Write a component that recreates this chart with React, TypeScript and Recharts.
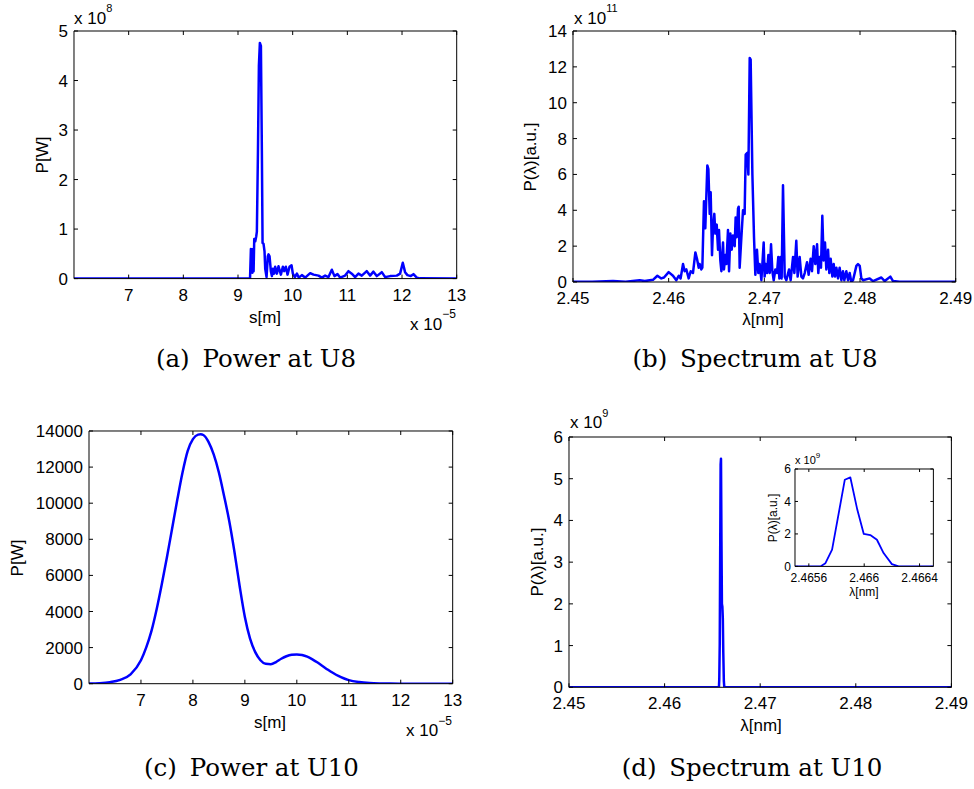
import React from 'react';
import { LineChart, Line, XAxis, YAxis } from 'recharts';

// ---------- data ----------
// (a) power at U8: s [x 1e-5 m], P [x 1e8 W]
const powerU8: [number, number][] = [
  [6.0, 0], [9.22, 0], [9.236, 0.6], [9.254, 0.55], [9.263, 0.12], [9.272, 0.6], [9.285, 0.15],
  [9.297, 0.8], [9.315, 0.75], [9.333, 0.85], [9.345, 0.95], [9.364, 2.5], [9.382, 4.3], [9.4, 4.76],
  [9.419, 4.7], [9.437, 2.5], [9.449, 0.72], [9.467, 0.7], [9.485, 0.55], [9.498, 0.2], [9.522, 0.03],
  [9.545, 0.45], [9.558, 0.49], [9.577, 0.45], [9.601, 0.15], [9.62, 0.05], [9.638, 0.2], [9.66, 0.1],
  [9.68, 0.24], [9.711, 0.1], [9.741, 0.25], [9.784, 0.08], [9.82, 0.24], [9.845, 0.15], [9.875, 0.24],
  [9.906, 0.08], [9.942, 0.24], [9.979, 0.27], [10.003, 0.1], [10.04, 0.03], [10.077, 0.1], [10.113, 0.02],
  [10.168, 0.07], [10.229, 0.02], [10.32, 0.11], [10.381, 0.08], [10.473, 0.06], [10.533, 0.02],
  [10.594, 0.06], [10.655, 0.03], [10.716, 0.18], [10.764, 0.05], [10.819, 0.09], [10.868, 0.02],
  [10.959, 0.06], [11.02, 0.15], [11.081, 0.1], [11.142, 0.03], [11.203, 0.1], [11.264, 0.06],
  [11.355, 0.15], [11.416, 0.06], [11.477, 0.14], [11.538, 0.05], [11.63, 0.13], [11.691, 0.03],
  [11.782, 0.05], [11.904, 0.06], [11.965, 0.1], [12.014, 0.32], [12.056, 0.13], [12.099, 0.07],
  [12.16, 0.05], [12.209, 0.09], [12.27, 0.02], [12.331, 0.005], [13.0, 0],
];

// (b) spectrum at U8: lambda [nm], P [x 1e11 a.u.]
const spectrumU8: [number, number][] = [
  [2.45, 0.02], [2.452, 0.02], [2.45418, 0.06], [2.4555, 0.02], [2.45697, 0.1], [2.4575, 0.05],
  [2.45836, 0.12], [2.45882, 0.35], [2.45923, 0.2], [2.45951, 0.25], [2.46, 0.55], [2.46045, 0.35],
  [2.4608, 0.1], [2.46105, 0.35], [2.46125, 0.2], [2.4615, 1.0], [2.46167, 0.6], [2.46185, 0.7],
  [2.46209, 0.2], [2.4623, 0.6], [2.46254, 0.5], [2.46279, 1.65], [2.46296, 1.3], [2.46314, 0.8],
  [2.46324, 1.0], [2.46341, 0.7], [2.46352, 0.8], [2.46369, 4.5], [2.46383, 3.0], [2.46404, 6.5],
  [2.46415, 6.3], [2.46429, 3.8], [2.46439, 5.0], [2.46453, 1.5], [2.46463, 3.0], [2.46477, 3.8],
  [2.46488, 2.7], [2.46502, 3.2], [2.46516, 1.8], [2.46526, 2.9], [2.4654, 1.2], [2.46551, 0.6],
  [2.46568, 2.2], [2.46578, 0.7], [2.46592, 1.5], [2.46603, 1.0], [2.4662, 2.9], [2.46631, 0.6],
  [2.46645, 2.7], [2.46659, 1.8], [2.46672, 2.6], [2.4669, 2.0], [2.467, 3.6], [2.46711, 2.5],
  [2.46725, 4.1], [2.46732, 4.2], [2.46742, 0.8], [2.4676, 2.5], [2.46777, 4.0], [2.46794, 3.8],
  [2.46805, 7.1], [2.46822, 7.2], [2.46833, 6.0], [2.46847, 12.5], [2.46857, 12.4], [2.46875, 6.0],
  [2.46892, 2.5], [2.46906, 0.4], [2.46923, 1.8], [2.46937, 0.5], [2.46951, 1.0], [2.46969, 0.1],
  [2.46993, 2.2], [2.47003, 0.3], [2.47014, 1.0], [2.47028, 0.5], [2.47042, 1.5], [2.47056, 0.5],
  [2.4707, 2.1], [2.47084, 0.6], [2.47098, 0.1], [2.47115, 0.7], [2.47132, 0.5], [2.47146, 1.4],
  [2.47157, 0.2], [2.47171, 1.4], [2.47181, 0.2], [2.47195, 5.4], [2.47213, 0.3], [2.4723, 0.1],
  [2.47258, 0.7], [2.47275, 0.1], [2.473, 1.4], [2.47314, 0.5], [2.47334, 2.3], [2.47348, 0.3],
  [2.47369, 1.4], [2.47387, 0.3], [2.47404, 0.2], [2.47422, 0.5], [2.47446, 1.1], [2.47463, 0.4],
  [2.47484, 1.3], [2.47498, 0.6], [2.47516, 2.0], [2.47533, 1.0], [2.47551, 2.1], [2.47564, 0.5],
  [2.47578, 1.4], [2.47592, 0.8], [2.47606, 3.7], [2.4762, 1.2], [2.47634, 2.2], [2.47648, 0.7],
  [2.47666, 1.8], [2.47679, 0.5], [2.47693, 1.3], [2.47711, 0.3], [2.47725, 1.0], [2.47739, 0.3],
  [2.47753, 0.8], [2.4777, 0.2], [2.47787, 0.8], [2.47805, 0.1], [2.47822, 0.6], [2.47836, 0.1],
  [2.47857, 0.6], [2.47875, 0.1], [2.47892, 0.5], [2.47909, 0.0], [2.47927, 0.1], [2.47962, 0.9],
  [2.47979, 1.0], [2.47997, 0.9], [2.48014, 0.2], [2.48031, 0.1], [2.48101, 0.2], [2.48136, 0.05],
  [2.48223, 0.25], [2.48258, 0.05], [2.48317, 0.3], [2.48345, 0.05], [2.48415, 0.02], [2.49, 0.02],
];

// (c) power at U10: s [x 1e-5 m], P [W]
const powerU10: [number, number][] = [
  [6.0, 5], [6.2, 25], [6.4, 80], [6.6, 210], [6.8, 520], [7.0, 1300], [7.1, 2000], [7.2, 2900],
  [7.3, 4100], [7.4, 5500], [7.5, 7000], [7.6, 8600], [7.7, 10200], [7.8, 11700], [7.9, 12900],
  [8.0, 13550], [8.1, 13800], [8.15, 13820], [8.2, 13780], [8.3, 13400], [8.4, 12700], [8.5, 11700],
  [8.6, 10400], [8.7, 9000], [8.8, 7300], [8.9, 5400], [9.0, 3700], [9.1, 2500], [9.2, 1750],
  [9.3, 1300], [9.4, 1100], [9.5, 1080], [9.6, 1200], [9.7, 1380], [9.8, 1520], [9.9, 1600],
  [10.0, 1620], [10.1, 1590], [10.2, 1500], [10.3, 1350], [10.4, 1170], [10.5, 970], [10.6, 770],
  [10.7, 590], [10.8, 430], [10.9, 300], [11.0, 200], [11.2, 90], [11.4, 35], [11.6, 12], [11.8, 4],
  [12.0, 1], [12.5, 0], [13.0, 0],
];

// (d) spectrum at U10: lambda [nm], P [x 1e9 a.u.]
const spectrumU10Peak: [number, number][] = [
  [2.4655, 0], [2.465684, 0], [2.46572, 0.2], [2.465768, 1.03], [2.46586, 5.34], [2.4659, 5.48],
  [2.46595, 3.5], [2.465997, 2.0], [2.466044, 1.93], [2.466092, 1.64], [2.46614, 0.82],
  [2.4662, 0.14], [2.466249, 0], [2.4665, 0],
];
const spectrumU10Ends: [number, number][] = [[2.45, 0], [2.49, 0]];

const sTicks = [7, 8, 9, 10, 11, 12, 13];
const lambdaTicks = [2.45, 2.46, 2.47, 2.48, 2.49];
const powerU8Ticks = [0, 1, 2, 3, 4, 5];
const spectrumU8Ticks = [0, 2, 4, 6, 8, 10, 12, 14];
const powerU10Ticks = [0, 2000, 4000, 6000, 8000, 10000, 12000, 14000];
const spectrumU10Ticks = [0, 1, 2, 3, 4, 5, 6];
const insetXTicks = [2.4656, 2.466, 2.4664];
const insetYTicks = [0, 2, 4, 6];

const SANS = 'Liberation Sans, Arial, sans-serif';
const SERIF = 'DejaVu Serif, serif';

type Box = { l: number; t: number; r: number; b: number };

function Panel(props: {
  box: Box;
  data: [number, number][];
  xDomain: [number, number];
  yDomain: [number, number];
  xTicks: number[];
  yTicks: number[];
  fontSize: number;
  tickLen: number;
  xGap: number;
  yGap: number;
  strokeWidth: number;
  curve: 'linear' | 'monotone';
}) {
  const { box, data, xDomain, yDomain, xTicks, yTicks, fontSize, tickLen, xGap, yGap, strokeWidth, curve } = props;
  const padL = 70;
  const padT = 10;
  const padR = 30;
  const padB = 50;
  const w = box.r - box.l;
  const h = box.b - box.t;
  const rows = data.map(([x, y]) => ({ x, y }));
  const tickStyle = { fill: '#000', fontSize, fontFamily: SANS };
  const blank = () => '';
  return (
    <div style={{ position: 'absolute', left: box.l - padL, top: box.t - padT }}>
      <LineChart
        width={w + padL + padR}
        height={h + padT + padB}
        data={rows}
        margin={{ top: padT - 1, right: padR - 1, left: 0, bottom: 0 }}
      >
        <XAxis
          xAxisId="b"
          type="number"
          dataKey="x"
          domain={xDomain}
          ticks={xTicks}
          interval={0}
          allowDataOverflow
          height={padB}
          tickSize={-tickLen}
          tickMargin={tickLen + xGap}
          stroke="#000"
          tick={tickStyle}
        />
        <XAxis
          xAxisId="t"
          orientation="top"
          type="number"
          dataKey="x"
          domain={xDomain}
          ticks={xTicks}
          interval={0}
          allowDataOverflow
          height={1}
          tickSize={-tickLen}
          stroke="#000"
          tick={tickStyle}
          tickFormatter={blank}
        />
        <YAxis
          yAxisId="l"
          type="number"
          domain={yDomain}
          ticks={yTicks}
          interval={0}
          allowDataOverflow
          width={padL}
          tickSize={-tickLen}
          tickMargin={tickLen + yGap}
          stroke="#000"
          tick={tickStyle}
        />
        <YAxis
          yAxisId="r"
          orientation="right"
          type="number"
          domain={yDomain}
          ticks={yTicks}
          interval={0}
          allowDataOverflow
          width={1}
          tickSize={-tickLen}
          stroke="#000"
          tick={tickStyle}
          tickFormatter={blank}
        />
        <Line
          xAxisId="b"
          yAxisId="l"
          dataKey="y"
          type={curve}
          stroke="#0000ff"
          strokeWidth={strokeWidth}
          strokeLinejoin="round"
          dot={false}
          activeDot={false}
          isAnimationActive={false}
        />
      </LineChart>
    </div>
  );
}

function Mult(props: { x: number; y: number; exp: string; size: number; supSize: number; rise: number }) {
  const { x, y, exp, size, supSize, rise } = props;
  return (
    <text x={x} y={y} fontSize={size} fontFamily={SANS} fill="#000">
      x 10
      <tspan dy={-rise} fontSize={supSize}>{exp}</tspan>
    </text>
  );
}

function VLabel(props: { x: number; y: number; text: string; size: number }) {
  return (
    <text
      transform={`translate(${props.x},${props.y}) rotate(-90)`}
      textAnchor="middle"
      dominantBaseline="central"
      fontSize={props.size}
      fontFamily={SANS}
      fill="#000"
    >
      {props.text}
    </text>
  );
}

function HLabel(props: { x: number; y: number; text: string; size: number }) {
  return (
    <text x={props.x} y={props.y} textAnchor="middle" dominantBaseline="central" fontSize={props.size} fontFamily={SANS} fill="#000">
      {props.text}
    </text>
  );
}

function Caption(props: { x: number; y: number; tag: string; text: string }) {
  return (
    <text x={props.x} y={props.y} textAnchor="middle" fontSize={24.5} fontFamily={SERIF} fill="#000">
      {props.tag}
      <tspan dx={5}>{' ' + props.text}</tspan>
    </text>
  );
}

export default function App() {
  const spectrumU10 = [spectrumU10Ends[0], ...spectrumU10Peak, spectrumU10Ends[1]];
  return (
    <div style={{ position: 'absolute', left: 0, top: 0, width: 974, height: 789, background: '#fff', overflow: 'hidden' }}>
      <Panel
        box={{ l: 74, t: 30.7, r: 456.7, b: 278.3 }}
        data={powerU8}
        xDomain={[6, 13]}
        yDomain={[0, 5]}
        xTicks={sTicks}
        yTicks={powerU8Ticks}
        fontSize={17}
        tickLen={4}
        xGap={10}
        yGap={6}
        strokeWidth={2.5}
        curve="linear"
      />
      <Panel
        box={{ l: 573.3, t: 30.7, r: 956, b: 281.7 }}
        data={spectrumU8}
        xDomain={[2.45, 2.49]}
        yDomain={[0, 14]}
        xTicks={lambdaTicks}
        yTicks={spectrumU8Ticks}
        fontSize={17}
        tickLen={4}
        xGap={10}
        yGap={6}
        strokeWidth={2.5}
        curve="linear"
      />
      <Panel
        box={{ l: 89, t: 431, r: 452.7, b: 683.7 }}
        data={powerU10}
        xDomain={[6, 13]}
        yDomain={[0, 14000]}
        xTicks={sTicks}
        yTicks={powerU10Ticks}
        fontSize={17}
        tickLen={4}
        xGap={10}
        yGap={6}
        strokeWidth={2.5}
        curve="monotone"
      />
      <Panel
        box={{ l: 569.3, t: 436.7, r: 951.7, b: 687 }}
        data={spectrumU10}
        xDomain={[2.45, 2.49]}
        yDomain={[0, 6]}
        xTicks={lambdaTicks}
        yTicks={spectrumU10Ticks}
        fontSize={17}
        tickLen={4}
        xGap={10}
        yGap={6}
        strokeWidth={2.5}
        curve="linear"
      />
      <Panel
        box={{ l: 795.3, t: 469.3, r: 933.7, b: 566.7 }}
        data={spectrumU10Peak}
        xDomain={[2.4655, 2.4665]}
        yDomain={[0, 6]}
        xTicks={insetXTicks}
        yTicks={insetYTicks}
        fontSize={12}
        tickLen={3}
        xGap={7}
        yGap={4}
        strokeWidth={1.8}
        curve="linear"
      />
      <svg
        width={974}
        height={789}
        style={{ position: 'absolute', left: 0, top: 0, pointerEvents: 'none' }}
      >
        <Mult x={74} y={24} exp="8" size={17} supSize={11} rise={12} />
        <Mult x={410} y={330} exp="−5" size={17} supSize={12} rise={12} />
        <Mult x={574} y={24} exp="11" size={17} supSize={11} rise={12} />
        <Mult x={406} y={736} exp="−5" size={17} supSize={12} rise={11} />
        <Mult x={570} y={428} exp="9" size={17} supSize={11} rise={11} />
        <Mult x={795} y={464} exp="9" size={11} supSize={8} rise={6} />

        <VLabel x={42} y={155} text="P[W]" size={17} />
        <HLabel x={265} y={317} text="s[m]" size={17} />
        <VLabel x={530} y={157} text="P(λ)[a.u.]" size={17} />
        <HLabel x={763} y={319} text="λ[nm]" size={17} />
        <VLabel x={17} y={558} text="P[W]" size={17} />
        <HLabel x={270} y={722} text="s[m]" size={17} />
        <VLabel x={537} y={562} text="P(λ)[a.u.]" size={17} />
        <HLabel x={761} y={725} text="λ[nm]" size={17} />
        <VLabel x={773} y={518} text="P(λ)[a.u.]" size={12} />
        <HLabel x={864} y={592} text="λ[nm]" size={12} />

        <Caption x={256} y={367} tag="(a)" text="Power at U8" />
        <Caption x={755} y={367} tag="(b)" text="Spectrum at U8" />
        <Caption x={251.5} y={776} tag="(c)" text="Power at U10" />
        <Caption x={752} y={776} tag="(d)" text="Spectrum at U10" />
      </svg>
    </div>
  );
}
